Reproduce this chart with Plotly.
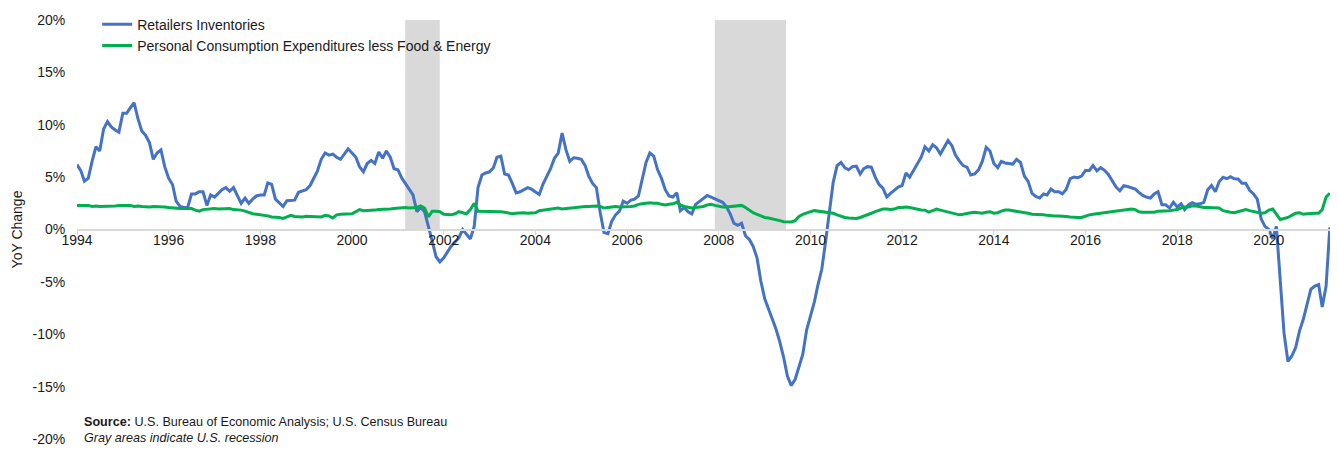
import pandas as pd
import plotly.graph_objects as go

# ---------------- DATA (monthly, YoY % change) ----------------
retail_1994_1999 = [
    6.2, 5.6, 4.6, 4.9, 6.5, 7.9, 7.5, 9.6, 10.3, 9.8, 9.5, 9.3,
    11.1, 11.1, 11.6, 12.1, 10.6, 9.4, 9.0, 8.3, 6.7, 7.3, 7.6, 6.0,
    4.9, 4.3, 2.7, 2.2, 2.1, 2.1, 3.4, 3.4, 3.6, 3.6, 2.3, 3.3,
    3.1, 3.5, 3.8, 4.0, 3.65, 4.0, 3.3, 2.5, 3.0, 2.5, 2.9, 3.2,
    3.3, 3.3, 4.45, 4.3, 2.9, 2.55, 2.2, 2.75, 2.8, 2.8, 3.55, 3.7,
    3.8, 4.2, 4.8, 5.6, 6.7, 7.3, 7.1, 7.2, 6.9, 6.7, 7.2, 7.7,
]
retail_2000_2009 = [
    7.3, 6.9, 6.0, 5.5, 6.3, 6.6, 6.3, 7.4, 6.8, 7.5, 6.9, 5.8,
    5.7, 4.9, 4.4, 3.9, 3.3, 1.7, 2.1, 1.7, 0.4, -1.1, -2.6, -3.1,
    -2.7, -2.1, -1.6, -1.2, -0.8, 0.0, -0.5, -0.9, 0.3, 4.0, 5.2, 5.4,
    5.5, 5.9, 6.9, 7.0, 5.3, 5.2, 4.4, 3.5, 3.6, 3.8, 4.0, 3.85,
    3.6, 3.35, 4.3, 5.1, 5.8, 6.8, 7.3, 9.2, 7.6, 6.5, 6.85, 6.8,
    6.7, 6.1, 5.1, 4.4, 4.0, 1.6, -0.3, -0.4, 0.8, 1.4, 1.75, 2.7,
    2.5, 2.8, 2.9, 3.2, 4.7, 6.4, 7.3, 7.0, 5.7, 4.9, 3.8, 3.2,
    3.1, 3.5, 1.8, 2.1, 1.7, 1.5, 2.4, 2.7, 3.0, 3.25, 3.1, 2.95,
    2.8, 2.6, 2.2, 1.5, 0.6, 0.4, 0.6, -0.6, -0.95, -1.6, -2.7, -4.9,
    -6.6, -7.6, -8.4, -9.5, -10.7, -12.2, -14.0, -14.9, -14.3, -13.2, -11.9, -9.6,
]
retail_2010_2019 = [
    -8.3, -6.9, -5.3, -3.8, -1.2, 2.0, 4.5, 6.1, 6.4, 5.9, 5.7, 6.0,
    6.05, 5.3, 5.8, 6.0, 5.95, 5.0, 4.3, 3.95, 3.1, 3.45, 3.8, 4.05,
    4.2, 5.4, 5.0, 5.65, 6.2, 6.9, 7.9, 7.5, 8.1, 7.8, 7.2, 7.9,
    8.5, 8.0, 7.1, 6.55, 6.1, 5.96, 5.2, 5.3, 5.7, 6.5, 7.85, 7.5,
    6.3, 5.9, 6.5, 6.35, 6.3, 6.25, 6.7, 6.4, 5.1, 4.6, 3.45, 3.15,
    3.0, 3.4, 3.3, 3.85, 3.6, 3.6, 3.4, 3.85, 4.85, 5.0, 4.95, 5.1,
    5.64, 5.64, 6.1, 5.6, 5.9, 5.65, 5.25, 4.6, 4.05, 3.7, 4.19, 4.1,
    3.95, 3.85, 3.55, 3.25, 3.1, 3.0, 3.4, 3.6, 2.36, 2.36, 2.05, 2.6,
    2.15, 2.45, 1.9, 2.36, 2.56, 2.4, 2.45, 2.6, 3.8, 4.2, 3.6, 4.55,
    4.98, 4.85, 5.05, 4.85, 4.82, 4.42, 4.42, 3.75, 3.4, 2.9, 1.0, 0.3,
]
retail_2020_2021 = [
    0.0, -0.9, 0.3, -5.1, -9.9, -12.6, -12.1, -11.3, -9.7, -8.6, -7.1, -5.7,
    -5.4, -5.25, -7.4, -5.4, 0.2,
]

pce_1994_1999 = [
    2.3, 2.3, 2.25, 2.3, 2.2, 2.25, 2.2, 2.2, 2.25, 2.2, 2.25, 2.3,
    2.3, 2.25, 2.3, 2.2, 2.25, 2.2, 2.15, 2.15, 2.2, 2.2, 2.15, 2.15,
    2.1, 2.05, 2.05, 2.0, 2.0, 2.0, 2.0, 1.85, 1.75, 1.9, 1.95, 1.95,
    2.0, 1.95, 1.95, 2.0, 2.0, 1.9, 1.9, 1.85, 1.75, 1.6, 1.5, 1.45,
    1.4, 1.4, 1.3, 1.2, 1.2, 1.15, 1.05, 1.2, 1.35, 1.25, 1.2, 1.2,
    1.27, 1.25, 1.2, 1.17, 1.2, 1.35, 1.3, 1.1, 1.4, 1.45, 1.45, 1.5,
]
pce_2000_2009 = [
    1.5, 1.7, 1.9, 1.8, 1.8, 1.85, 1.85, 1.9, 1.9, 1.95, 1.95, 2.0,
    2.05, 2.05, 2.1, 2.05, 2.1, 2.1, 2.25, 2.05, 1.2, 1.75, 1.75, 1.7,
    1.45, 1.4, 1.4, 1.5, 1.7, 1.6, 1.5, 1.9, 2.5, 1.75, 1.75, 1.7,
    1.7, 1.7, 1.75, 1.7, 1.65, 1.55, 1.5, 1.55, 1.6, 1.6, 1.55, 1.6,
    1.6, 1.8, 1.85, 1.9, 1.95, 2.0, 2.05, 1.95, 2.0, 2.0, 2.1, 2.1,
    2.2, 2.2, 2.2, 2.25, 2.25, 2.2, 2.05, 2.1, 2.15, 2.2, 2.15, 2.15,
    2.15, 2.2, 2.25, 2.4, 2.45, 2.5, 2.55, 2.5, 2.5, 2.4, 2.35, 2.4,
    2.45, 2.6, 2.35, 2.2, 2.1, 2.05, 2.1, 2.15, 2.2, 2.35, 2.4, 2.3,
    2.2, 2.15, 2.15, 2.2, 2.2, 2.25, 2.3, 2.1, 1.85, 1.6, 1.45, 1.3,
    1.15, 1.1, 1.0, 0.95, 0.85, 0.75, 0.7, 0.72, 0.85, 1.25, 1.45, 1.6,
]
pce_2010_2019 = [
    1.7, 1.8, 1.75, 1.65, 1.6, 1.6, 1.55, 1.4, 1.25, 1.15, 1.1, 1.05,
    1.05, 1.15, 1.3, 1.45, 1.55, 1.7, 1.8, 1.95, 1.95, 1.9, 1.95, 2.1,
    2.1, 2.15, 2.1, 2.0, 1.9, 1.87, 1.85, 1.65, 1.8, 1.95, 1.85, 1.75,
    1.7, 1.6, 1.5, 1.4, 1.45, 1.55, 1.6, 1.65, 1.6, 1.55, 1.65, 1.7,
    1.55, 1.6, 1.75, 1.85, 1.85, 1.8, 1.75, 1.7, 1.65, 1.55, 1.45, 1.45,
    1.45, 1.4, 1.35, 1.3, 1.3, 1.3, 1.3, 1.25, 1.2, 1.15, 1.15, 1.15,
    1.3, 1.4, 1.45, 1.5, 1.55, 1.6, 1.65, 1.7, 1.75, 1.8, 1.85, 1.9,
    1.95, 1.9, 1.7, 1.65, 1.65, 1.6, 1.65, 1.75, 1.75, 1.75, 1.8, 1.85,
    1.9, 2.05, 2.15, 2.15, 2.25, 2.25, 2.15, 2.1, 2.1, 2.1, 2.1, 2.05,
    1.8, 1.7, 1.65, 1.6, 1.7, 1.75, 1.9, 1.8, 1.7, 1.6, 1.55, 1.6,
]
pce_2020_2021 = [
    1.85, 1.95, 1.5, 0.95, 1.05, 1.15, 1.35, 1.55, 1.6, 1.45, 1.5, 1.55,
    1.55, 1.55, 1.9, 3.1, 3.45,
]

series_names = ["Retailers Inventories",
                "Personal Consumption Expenditures less Food & Energy"]
recession_starts = ["2001-02-28", "2007-12-01"]
recession_ends = ["2001-11-30", "2009-06-20"]
y_tick_values = [-20, -15, -10, -5, 0, 5, 10, 15, 20]
y_tick_labels = ["-20%", "-15%", "-10%", "-5%", "0%", "5%", "10%", "15%", "20%"]

# ---------------- BUILD ----------------
retail = retail_1994_1999 + retail_2000_2009 + retail_2010_2019 + retail_2020_2021
pce = pce_1994_1999 + pce_2000_2009 + pce_2010_2019 + pce_2020_2021
dates = pd.date_range("1994-01-01", periods=len(retail), freq="MS")

FONT = "Liberation Sans, Arial, Helvetica, sans-serif"
BLUE = "#4472C4"
GREEN = "#00B050"
TEXT = "#1a1a1a"

fig = go.Figure()
fig.add_trace(go.Scatter(x=dates, y=retail, mode="lines", name=series_names[0],
                         line=dict(color=BLUE, width=3)))
fig.add_trace(go.Scatter(x=dates, y=pce, mode="lines", name=series_names[1],
                         line=dict(color=GREEN, width=3)))

for s, e in zip(recession_starts, recession_ends):
    fig.add_shape(type="rect", xref="x", yref="y", x0=s, x1=e, y0=0, y1=20,
                  fillcolor="#d9d9d9", line=dict(width=0), layer="below")

# page body has an 8px margin: size/margins compensate so the plot area
# sits at x 77..1338, y 20..439 in the window
fig.update_layout(
    width=1330, height=444,
    margin=dict(l=69, r=0, t=12, b=13),
    paper_bgcolor="white", plot_bgcolor="white",
    font=dict(family=FONT, size=14, color=TEXT),
    showlegend=True,
    legend=dict(x=0.016, y=1.027, xanchor="left", yanchor="top",
                bgcolor="rgba(0,0,0,0)", font=dict(size=14, color=TEXT),
                tracegroupgap=0, itemwidth=30),
    xaxis=dict(
        type="date", range=["1994-01-01", "2021-07-05"],
        anchor="free", position=0.5,
        showline=True, linecolor="#d9d9d9", linewidth=1.5,
        ticks="outside", ticklen=5, tickcolor="#d9d9d9", tickwidth=1,
        tick0="1994-01-01", dtick="M24", tickformat="%Y",
        ticklabelstandoff=-7,
        showgrid=False, zeroline=False,
        tickfont=dict(size=14, color=TEXT),
    ),
    yaxis=dict(
        range=[-20, 20], tickvals=y_tick_values, ticktext=y_tick_labels,
        showgrid=False, zeroline=False, showline=False,
        ticks="outside", ticklen=8, tickcolor="rgba(0,0,0,0)",
        tickfont=dict(size=14, color=TEXT),
        title=dict(text="YoY Change", font=dict(size=14, color=TEXT), standoff=6),
        automargin=False,
    ),
)

fig.add_annotation(xref="paper", yref="paper", x=0.004, y=0.0396,
                   xanchor="left", yanchor="middle", showarrow=False,
                   text="<b>Source:</b> U.S. Bureau of Economic Analysis; U.S. Census Bureau",
                   font=dict(size=12.6, color=TEXT, family=FONT))
fig.add_annotation(xref="paper", yref="paper", x=0.004, y=0.0016,
                   xanchor="left", yanchor="middle", showarrow=False,
                   text="<i>Gray areas indicate U.S. recession</i>",
                   font=dict(size=12.6, color=TEXT, family=FONT))

fig.write_html("out.html")
